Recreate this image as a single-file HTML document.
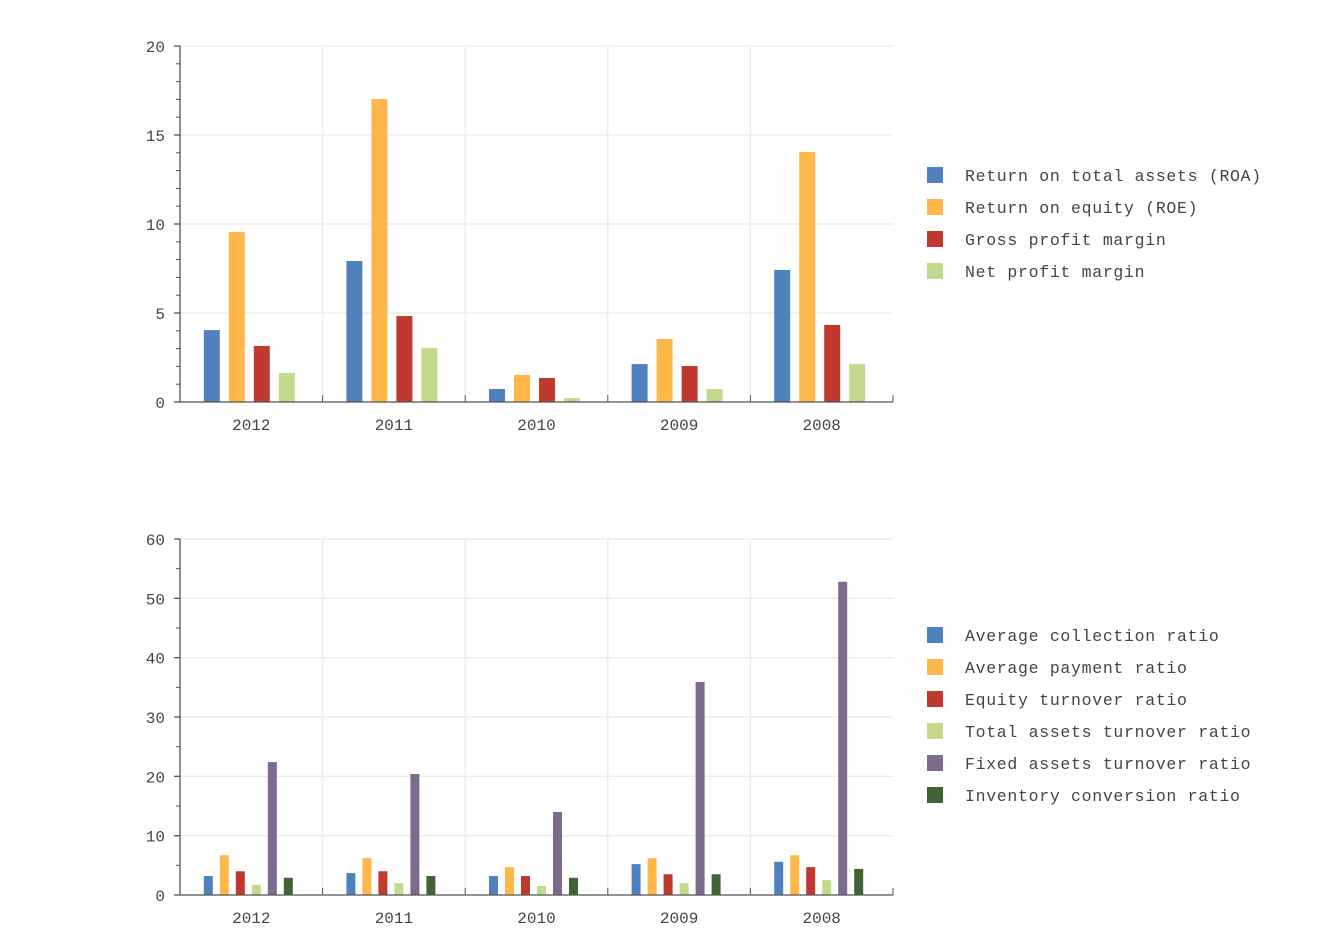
<!DOCTYPE html>
<html><head><meta charset="utf-8"><style>
html,body{margin:0;padding:0;background:#fff;width:1340px;height:940px;overflow:hidden}
svg text{font-family:"Liberation Mono",monospace;fill:#444}
</style></head><body>
<svg id="s" width="1340" height="940" xmlns="http://www.w3.org/2000/svg"></svg>
<script>
const s=document.getElementById('s');let h='';
const years=['2012','2011','2010','2009','2008'];
function chart(top,bot,max,step,minor,data,colors,barW,barGap,shift,legend,legY){
  const x0=180,x1=893,gw=(x1-x0)/5,sc=(bot-top)/max;
  for(let v=0;v<=max;v+=step){const y=bot-v*sc;
    h+=`<line x1="${x0}" x2="${x1}" y1="${y}" y2="${y}" stroke="#ebebeb" stroke-width="1.3"/>`;
    h+=`<text x="165" y="${y+6}" font-size="16" text-anchor="end">${v}</text>`;
    h+=`<line x1="174" x2="180" y1="${y}" y2="${y}" stroke="#555" stroke-width="1.3"/>`;}
  for(let v=0;v<=max;v+=step/minor){const y=bot-v*sc;h+=`<line x1="176" x2="180" y1="${y}" y2="${y}" stroke="#555"/>`;}
  for(let i=1;i<=5;i++){const x=x0+gw*i;
    if(i<5)h+=`<line x1="${x}" x2="${x}" y1="${top}" y2="${bot}" stroke="#ebebeb" stroke-width="1.3"/>`;
    h+=`<line x1="${x}" x2="${x}" y1="${bot-7}" y2="${bot}" stroke="#555"/>`;}
  const n=colors.length;
  data.forEach((g,i)=>{const cx=x0+gw*i+gw/2;const totalW=n*barW+(n-1)*barGap;let bx=cx-totalW/2+shift;
    g.forEach((v,j)=>{const y=bot-v*sc;h+=`<rect x="${bx+j*(barW+barGap)}" y="${y}" width="${barW}" height="${v*sc}" fill="${colors[j]}"/>`;});
    h+=`<text x="${cx}" y="${bot+28}" font-size="16" text-anchor="middle">${years[i]}</text>`;});
  h+=`<line x1="${x0}" x2="${x0}" y1="${top}" y2="${bot}" stroke="#555" stroke-width="1.3"/>`;
  h+=`<line x1="${x0}" x2="${x1}" y1="${bot}" y2="${bot}" stroke="#555" stroke-width="1.3"/>`;
  legend.forEach((t,j)=>{const y=legY+32*j;
    h+=`<rect x="927" y="${y-8}" width="16" height="16" fill="${colors[j]}"/>`;
    h+=`<text x="965" y="${y+6}" font-size="16.5" letter-spacing="0.7">${t}</text>`;});
}
const c=['#4f81bd','#ffb74a','#c0392e','#c3d98c','#7f6a8f','#3f6436'];
chart(46,402,20,5,5,[[4.04,9.55,3.15,1.63],[7.92,17.02,4.83,3.03],[0.73,1.52,1.35,0.22],[2.13,3.54,2.02,0.73],[7.42,14.04,4.33,2.13]],
 c.slice(0,4),16,9,-2,['Return on total assets (ROA)','Return on equity (ROE)','Gross profit margin','Net profit margin'],175);
chart(539,895,60,10,2,[[3.2,6.7,4.0,1.7,22.4,2.9],[3.7,6.2,4.0,2.0,20.4,3.2],[3.2,4.7,3.2,1.5,14.0,2.9],[5.2,6.2,3.5,2.0,35.9,3.5],[5.6,6.7,4.7,2.5,52.8,4.4]],
 c,9,7,-3,['Average collection ratio','Average payment ratio','Equity turnover ratio','Total assets turnover ratio','Fixed assets turnover ratio','Inventory conversion ratio'],635);
s.innerHTML=h;
</script>
</body></html>
